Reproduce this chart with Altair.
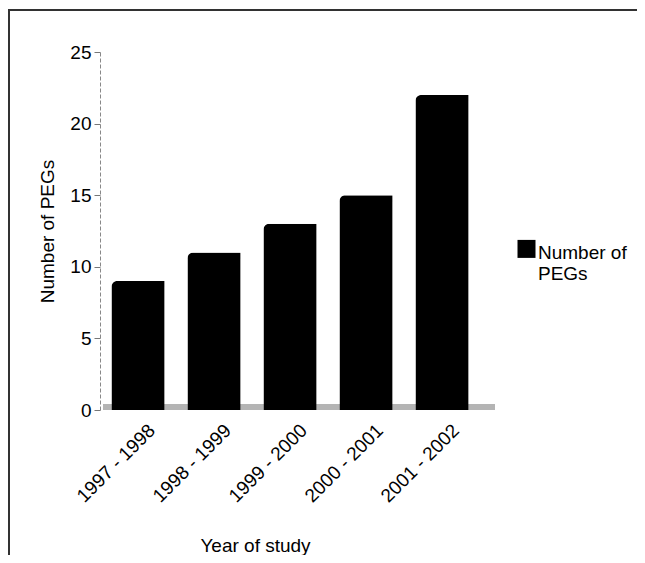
import altair as alt
import pandas as pd

years = ["1997 - 1998", "1998 - 1999", "1999 - 2000", "2000 - 2001", "2001 - 2002"]
pegs = [9, 11, 13, 15, 22]
series = ["Number of PEGs"] * 5
y_ticks = [0, 5, 10, 15, 20, 25]

df = pd.DataFrame({"year": years, "pegs": pegs, "series": series})

FONT = "Liberation Sans"
W, H = 380, 358

base = alt.Chart(df)

floor = base.mark_rect(color="#b4b4b4").encode(
    x=alt.value(3), x2=alt.value(395), y=alt.value(H - 6), y2=alt.value(H)
)

bars = base.mark_bar(color="black", cornerRadiusTopLeft=6).encode(
    x=alt.X("year:N", sort=years,
            scale=alt.Scale(paddingInner=0.3, paddingOuter=0.15),
            axis=alt.Axis(title="Year of study", labelAngle=-45, labelAlign="right",
                          labelBaseline="middle", labelOffset=14, labelPadding=17,
                          labelFontSize=19, labelFont=FONT, labelColor="black",
                          ticks=False, domain=False,
                          titleFont=FONT, titleFontSize=19, titleFontWeight="normal",
                          titleColor="black", titleX=155, titleY=135,
                          titleAlign="center", titleBaseline="middle")),
    y=alt.Y("pegs:Q", scale=alt.Scale(domain=[0, 25], nice=False),
            axis=alt.Axis(title="Number of PEGs", values=y_ticks, grid=False,
                          labelFontSize=19, labelFont=FONT, labelColor="black",
                          labelPadding=3, tickSize=6, tickColor="#777",
                          domainColor="#888", domainWidth=1, domainDash=[4, 2],
                          titleFont=FONT, titleFontSize=19, titleFontWeight="normal",
                          titleColor="black", titlePadding=12)),
    color=alt.Color("series:N", scale=alt.Scale(range=["black"]),
                    legend=alt.Legend(title=None, orient="none", legendX=417, legendY=182,
                                      symbolType="M-1,-0.4H1V1.6H-1Z", symbolSize=324,
                                      symbolStrokeWidth=0, labelFont=FONT,
                                      labelFontSize=19, labelColor="black",
                                      labelExpr="['Number of', 'PEGs']",
                                      labelBaseline="top", labelOffset=2)),
)

frame_top = base.mark_rule(color="#333", strokeWidth=1.5).encode(
    x=alt.value(-92), x2=alt.value(560), y=alt.value(-42)
)
frame_left = base.mark_rule(color="#333", strokeWidth=1.5).encode(
    x=alt.value(-91), y=alt.value(-42), y2=alt.value(505)
)

chart = alt.layer(frame_top, frame_left, floor, bars).properties(
    width=W, height=H,
    autosize=alt.AutoSizeParams(type="none"),
    padding={"left": 92, "top": 44, "right": 157, "bottom": 145},
).configure_view(stroke=None)

chart.save("out.html", embed_options={"renderer": "svg", "actions": False})
